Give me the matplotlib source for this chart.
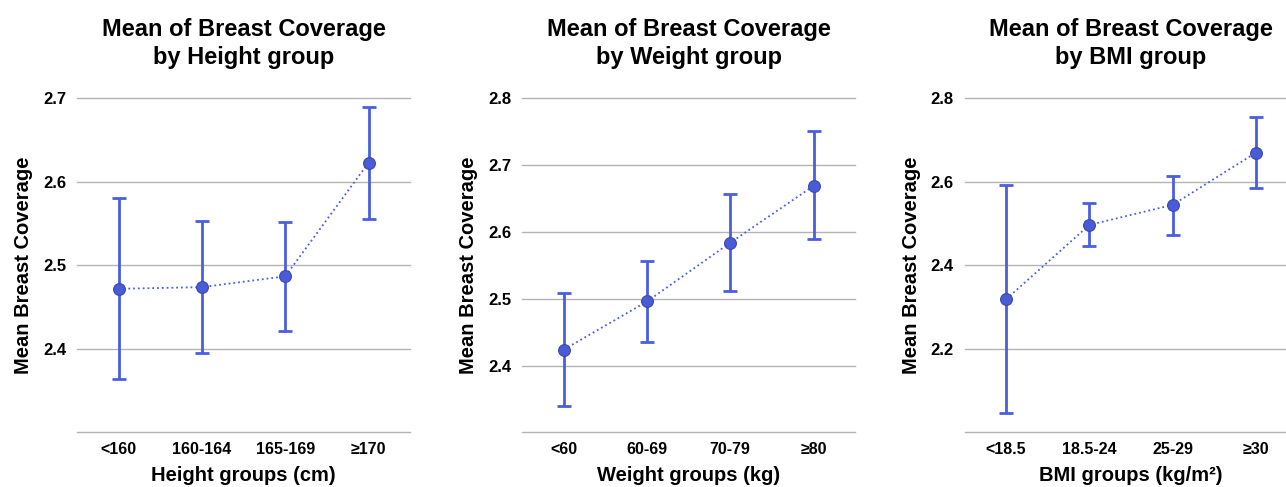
import numpy as np
import matplotlib.pyplot as plt

plt.rcParams['font.family'] = ['Liberation Sans', 'DejaVu Sans']
plt.rcParams['font.weight'] = 'bold'

# Height panel
height_groups = ['<160', '160-164', '165-169', '≥170']
height_mean = [2.472, 2.474, 2.487, 2.623]
height_low = [2.364, 2.395, 2.422, 2.556]
height_high = [2.581, 2.553, 2.552, 2.690]

# Weight panel
weight_groups = ['<60', '60-69', '70-79', '≥80']
weight_mean = [2.424, 2.496, 2.584, 2.669]
weight_low = [2.340, 2.436, 2.511, 2.589]
weight_high = [2.509, 2.556, 2.657, 2.751]

# BMI panel
bmi_groups = ['<18.5', '18.5-24', '25-29', '≥30']
bmi_mean = [2.319, 2.497, 2.545, 2.670]
bmi_low = [2.047, 2.447, 2.474, 2.585]
bmi_high = [2.592, 2.549, 2.613, 2.756]

panels = [
    {'title': 'Mean of Breast Coverage\nby Height group', 'xlabel': 'Height groups (cm)',
     'groups': height_groups, 'mean': height_mean, 'low': height_low, 'high': height_high,
     'ylim': (2.3, 2.7), 'yticks': [2.4, 2.5, 2.6, 2.7], 'grid': [2.3, 2.4, 2.5, 2.6, 2.7],
     'left': 0.060},
    {'title': 'Mean of Breast Coverage\nby Weight group', 'xlabel': 'Weight groups (kg)',
     'groups': weight_groups, 'mean': weight_mean, 'low': weight_low, 'high': weight_high,
     'ylim': (2.3, 2.8), 'yticks': [2.4, 2.5, 2.6, 2.7, 2.8], 'grid': [2.3, 2.4, 2.5, 2.6, 2.7, 2.8],
     'left': 0.406},
    {'title': 'Mean of Breast Coverage\nby BMI group', 'xlabel': 'BMI groups (kg/m²)',
     'groups': bmi_groups, 'mean': bmi_mean, 'low': bmi_low, 'high': bmi_high,
     'ylim': (2.0, 2.8), 'yticks': [2.2, 2.4, 2.6, 2.8], 'grid': [2.0, 2.2, 2.4, 2.6, 2.8],
     'left': 0.750},
]

blue = '#4a5fe0'

fig = plt.figure(figsize=(12.86, 4.87), dpi=100)

for p in panels:
    ax = fig.add_axes([p['left'], 0.112, 0.259, 0.686])
    x = np.arange(len(p['groups']))
    mean = np.array(p['mean'])
    yerr = [mean - np.array(p['low']), np.array(p['high']) - mean]

    for g in p['grid']:
        ax.axhline(g, color='#b4b4b4', lw=1.0, zorder=0, clip_on=False)

    ax.errorbar(x, mean, yerr=yerr, fmt='none', ecolor=blue, elinewidth=2,
                capsize=5, capthick=2, zorder=2)
    ax.plot(x, mean, ':', color=blue, lw=1.3, zorder=3)
    ax.plot(x, mean, 'o', color='#4a5bd8', markersize=8.5,
            markeredgecolor='#3a48b0', markeredgewidth=0.8, zorder=4)

    ax.set_xlim(-0.5, len(x) - 0.5)
    ax.set_ylim(*p['ylim'])
    ax.set_xticks(x)
    ax.set_xticklabels(p['groups'], fontsize=11.5, fontweight='bold')
    ax.set_yticks(p['yticks'])
    ax.set_yticklabels([f'{t:.1f}' for t in p['yticks']], fontsize=12, fontweight='bold')
    ax.tick_params(axis='y', length=0, pad=8)
    ax.tick_params(axis='x', length=0, pad=7)
    for s in ax.spines.values():
        s.set_visible(False)

    ax.set_title(p['title'], fontsize=17, fontweight='bold', pad=25, linespacing=1.25)
    ax.set_xlabel(p['xlabel'], fontsize=14.5, fontweight='bold', labelpad=6)
    ax.set_ylabel('Mean Breast Coverage', fontsize=14.5, fontweight='bold', labelpad=7)

fig.savefig('out.png', dpi=100)
